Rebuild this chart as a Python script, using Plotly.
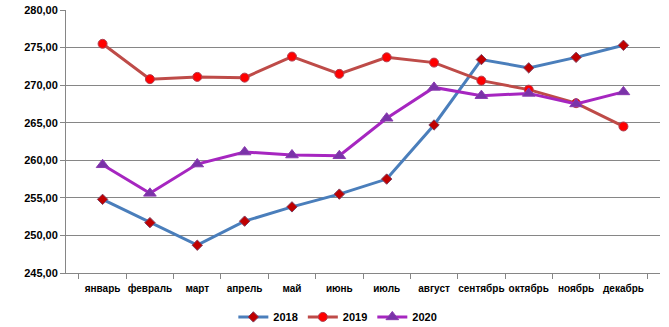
import plotly.graph_objects as go

months = ["январь", "февраль", "март", "апрель", "май", "июнь",
          "июль", "август", "сентябрь", "октябрь", "ноябрь", "декабрь"]

y2018 = [254.8, 251.7, 248.7, 251.9, 253.8, 255.5,
         257.5, 264.7, 273.4, 272.3, 273.7, 275.3]
y2019 = [275.5, 270.8, 271.1, 271.0, 273.8, 271.5,
         273.7, 273.0, 270.6, 269.4, 267.6, 264.5]
y2020 = [259.4, 255.6, 259.5, 261.1, 260.7, 260.6,
         265.6, 269.7, 268.6, 268.9, 267.5, 269.1]

y_ticks = [245, 250, 255, 260, 265, 270, 275, 280]

fig = go.Figure()

fig.add_trace(go.Scatter(
    x=months, y=y2018, name="2018", mode="lines+markers",
    line=dict(color="#4A7EBB", width=3),
    marker=dict(symbol="diamond", size=8, color="#C00000",
                line=dict(color="#7F3F5F", width=1)),
))
fig.add_trace(go.Scatter(
    x=months, y=y2019, name="2019", mode="lines+markers",
    line=dict(color="#BE4B48", width=3),
    marker=dict(symbol="circle", size=9, color="#FF0000",
                line=dict(color="#B04050", width=1)),
))
fig.add_trace(go.Scatter(
    x=months, y=y2020, name="2020", mode="lines+markers",
    line=dict(color="#A626C0", width=3),
    marker=dict(symbol="triangle-up", size=11, color="#7A33A8",
                line=dict(color="#8A3AB0", width=1)),
))

fig.update_layout(
    width=669, height=327,
    margin=dict(l=66, r=9, t=10, b=54, autoexpand=False),
    paper_bgcolor="white", plot_bgcolor="white",
    separators=", ",
    font=dict(family="Liberation Sans, Arial, sans-serif", size=11, color="#000000"),
    showlegend=True,
    legend=dict(orientation="h", xref="container", x=0.505, xanchor="center",
                y=-0.167, yanchor="middle",
                font=dict(size=11, family="Liberation Sans, Arial, sans-serif", weight="bold"),
                itemwidth=30, traceorder="normal"),
)

fig.update_xaxes(
    type="category", tickson="boundaries", tickangle=0, automargin=False,
    showline=True, linecolor="#868686", linewidth=1,
    ticks="outside", ticklen=5, tickcolor="#868686",
    ticklabelstandoff=6,
    showgrid=False, zeroline=False,
    tickfont=dict(size=10, weight="bold"),
)
fig.update_yaxes(
    range=[245, 280], tickvals=y_ticks, tickformat=".2f", automargin=False,
    showline=True, linecolor="#868686", linewidth=1,
    ticks="outside", ticklen=5, tickcolor="#868686",
    showgrid=True, gridcolor="#868686", gridwidth=1,
    zeroline=False,
    tickfont=dict(size=11, weight="bold"),
)

fig.write_html("out.html")
